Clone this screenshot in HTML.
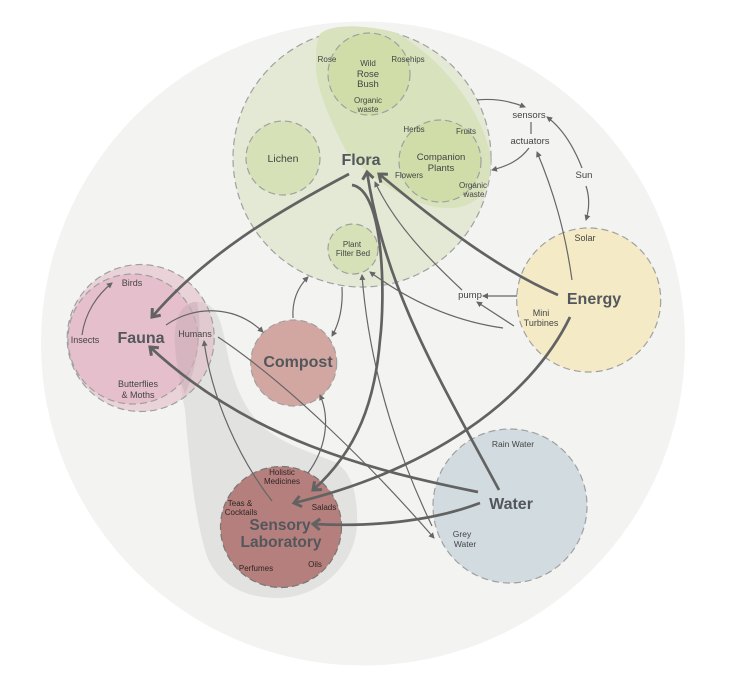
<!DOCTYPE html>
<html><head><meta charset="utf-8"><style>
html,body{margin:0;padding:0;background:#fff}
svg{display:block}
text{font-family:"Liberation Sans",sans-serif;text-anchor:middle;fill:#444}
.s{font-size:8px}.m{font-size:9.5px}.l{font-size:10.5px}
.b{font-weight:bold;fill:#53575c}
.dk{fill:#2f2626}
.t{fill:none;stroke:#666;stroke-width:1.2}
.k{fill:none;stroke:#626262;stroke-width:2.700}
.d{stroke:#a0a0a0;stroke-width:1.2;stroke-dasharray:7 4}
</style></head><body>
<svg width="730" height="683" viewBox="0 0 730 683" xmlns="http://www.w3.org/2000/svg">
<defs>
<marker id="a" markerWidth="7" markerHeight="7" refX="5" refY="3" orient="auto" markerUnits="userSpaceOnUse"><path d="M0,0L6,3L0,6z" fill="#666"/></marker>
<marker id="h" markerWidth="16" markerHeight="16" refX="10" refY="8" orient="auto" markerUnits="userSpaceOnUse"><path d="M3,2.500L10,8L3,13.500" fill="none" stroke="#626262" stroke-width="3"/></marker>
</defs>
<rect width="730" height="683" fill="#fff"/>
<circle cx="363" cy="343.500" r="322" fill="#f3f3f2"/>

<circle cx="362" cy="158" r="129" fill="#e3e9d5" class="d"/>
<path d="M320,34C330,24 365,24 397,33C435,55 478,100 490,153C494,185 482,204 455,208C420,210 385,190 347,153C330,120 314,85 316,60C316,48 317,40 320,34Z" fill="#d8e2bd"/>
<circle cx="369" cy="74" r="41" fill="#d0dda9" class="d"/>
<circle cx="283" cy="158" r="37" fill="#d6e1b8" class="d"/>
<circle cx="440" cy="161" r="41" fill="#d0dda9" class="d"/>
<circle cx="353" cy="249" r="25" fill="#d6e1b8" class="d"/>

<path d="M175,345C172,310 185,301 200,302C215,303 221,320 225,340C231,375 240,405 263,427C285,445 310,452 335,462C352,472 358,495 357,525C355,565 320,598 277,598C240,598 213,580 205,550C195,515 190,470 185,410C180,385 176,365 175,345Z" fill="#e2e3e0"/>

<circle cx="140.700" cy="338" r="73.500" fill="#e2b6c5" fill-opacity=".55" class="d"/>
<circle cx="133" cy="339" r="65" fill="#e2b6c5" fill-opacity=".7" class="d"/>
<path d="M175,345C173,315 185,301 197,302C202,325 200,360 185,394C178,375 176,360 175,345Z" fill="#cfb0bc" fill-opacity=".6"/>
<circle cx="293.700" cy="363" r="43" fill="#d2a7a1" class="d"/>
<circle cx="281" cy="527" r="60.500" fill="#b47f7c" stroke="#777" stroke-width="1.200" stroke-dasharray="7 4"/>
<circle cx="588.700" cy="300" r="72" fill="#f4ebc6" class="d"/>
<circle cx="510" cy="506" r="77" fill="#d2dbe0" class="d"/>

<!-- thin connectors -->
<g class="t">
<path d="M477,100C495,98 510,101 525,107" marker-end="url(#a)"/>
<path d="M531,122V134"/>
<path d="M529,148C520,160 508,166 492,170" marker-end="url(#a)"/>
<path d="M582,168C573,145 562,128 547,117" marker-end="url(#a)"/>
<path d="M586,186C590,198 589,210 586,220" marker-end="url(#a)"/>
<path d="M572,280C565,230 553,190 537,152" marker-end="url(#a)"/>
<path d="M517,296H483" marker-end="url(#a)"/>
<path d="M514,326L477,302" marker-end="url(#a)"/>
<path d="M503,328C460,322 415,305 370,272" marker-end="url(#a)"/>
<path d="M462,290C430,260 395,225 375,182" marker-end="url(#a)"/>
<path d="M432,526C405,470 370,380 362,275" marker-end="url(#a)"/>
<path d="M293,318C292,302 297,288 308,277" marker-end="url(#a)"/>
<path d="M342,287C343,305 340,322 332,336" marker-end="url(#a)"/>
<path d="M218,337C290,385 375,470 434,538" marker-end="url(#a)"/>
<path d="M272,501C240,460 212,400 204,341" marker-end="url(#a)"/>
<path d="M166,325C195,305 235,305 263,332" marker-end="url(#a)"/>
<path d="M82,335C85,313 97,295 112,283" marker-end="url(#a)"/>
<path d="M308,473C325,450 331,420 320,395" marker-end="url(#a)"/>
</g>
<!-- thick connectors -->
<g class="k">
<path d="M349,174C275,213 205,255 152,317" marker-end="url(#h)"/>
<path d="M352,185C385,190 385,300 380,340C375,400 358,450 313,490" marker-end="url(#h)"/>
<path d="M499,490C440,380 385,290 367,172" marker-end="url(#h)"/>
<path d="M558,295C500,270 440,225 379,174" marker-end="url(#h)"/>
<path d="M570,317C530,400 430,470 294,503" marker-end="url(#h)"/>
<path d="M478,492C370,470 250,440 150,347" marker-end="url(#h)"/>
<path d="M480,503C430,522 370,527 313,524" marker-end="url(#h)"/>
</g>

<!-- labels -->
<text x="361" y="165" class="b" font-size="16">Flora</text>
<text x="283" y="162" class="l">Lichen</text>
<text x="327" y="62" class="s">Rose</text>
<text x="408" y="62" class="s">Rosehips</text>
<text x="368" y="66" class="s">Wild</text>
<text x="368" y="77" class="m">Rose</text>
<text x="368" y="87" class="m">Bush</text>
<text x="368" y="103" class="s">Organic</text>
<text x="368" y="112" class="s">waste</text>
<text x="414" y="132" class="s">Herbs</text>
<text x="466" y="134" class="s">Fruits</text>
<text x="441" y="160" class="m">Companion</text>
<text x="441" y="171" class="m">Plants</text>
<text x="409" y="178" class="s">Flowers</text>
<text x="473" y="188" class="s">Organic</text>
<text x="474" y="197" class="s">waste</text>
<text x="352" y="247" class="s">Plant</text>
<text x="353" y="256" class="s">Filter Bed</text>
<text x="529" y="118" class="m">sensors</text>
<text x="530" y="144" class="m">actuators</text>
<text x="584" y="178" class="m">Sun</text>
<text x="585" y="241" class="s" style="font-size:9px">Solar</text>
<text x="470" y="298" class="m">pump</text>
<text x="594" y="304" class="b" font-size="16">Energy</text>
<text x="541" y="316" class="m" style="font-size:9px">Mini</text>
<text x="541" y="326" class="m" style="font-size:9px">Turbines</text>
<text x="132" y="286" class="m" style="font-size:9px">Birds</text>
<text x="85" y="343" class="m" style="font-size:9px">Insects</text>
<text x="141" y="343" class="b" font-size="16">Fauna</text>
<text x="195" y="337" class="m" style="font-size:9px">Humans</text>
<text x="138" y="387" class="m" style="font-size:9px">Butterflies</text>
<text x="138" y="398" class="m" style="font-size:9px">&amp; Moths</text>
<text x="298" y="367" class="b" font-size="16">Compost</text>
<text x="282" y="475" class="s dk">Holistic</text>
<text x="282" y="484" class="s dk">Medicines</text>
<text x="240" y="506" class="s dk">Teas &amp;</text>
<text x="241" y="515" class="s dk">Cocktails</text>
<text x="324" y="510" class="s dk">Salads</text>
<text x="280" y="530" class="b" font-size="15.500">Sensory</text>
<text x="281" y="547" class="b" font-size="15.500">Laboratory</text>
<text x="256" y="571" class="s dk">Perfumes</text>
<text x="315" y="567" class="s dk">Oils</text>
<text x="513" y="447" class="s" style="font-size:8.500px">Rain Water</text>
<text x="511" y="509" class="b" font-size="16">Water</text>
<text x="462" y="537" class="s" style="font-size:8.500px">Grey</text>
<text x="465" y="547" class="s" style="font-size:8.500px">Water</text>
</svg>
</body></html>
